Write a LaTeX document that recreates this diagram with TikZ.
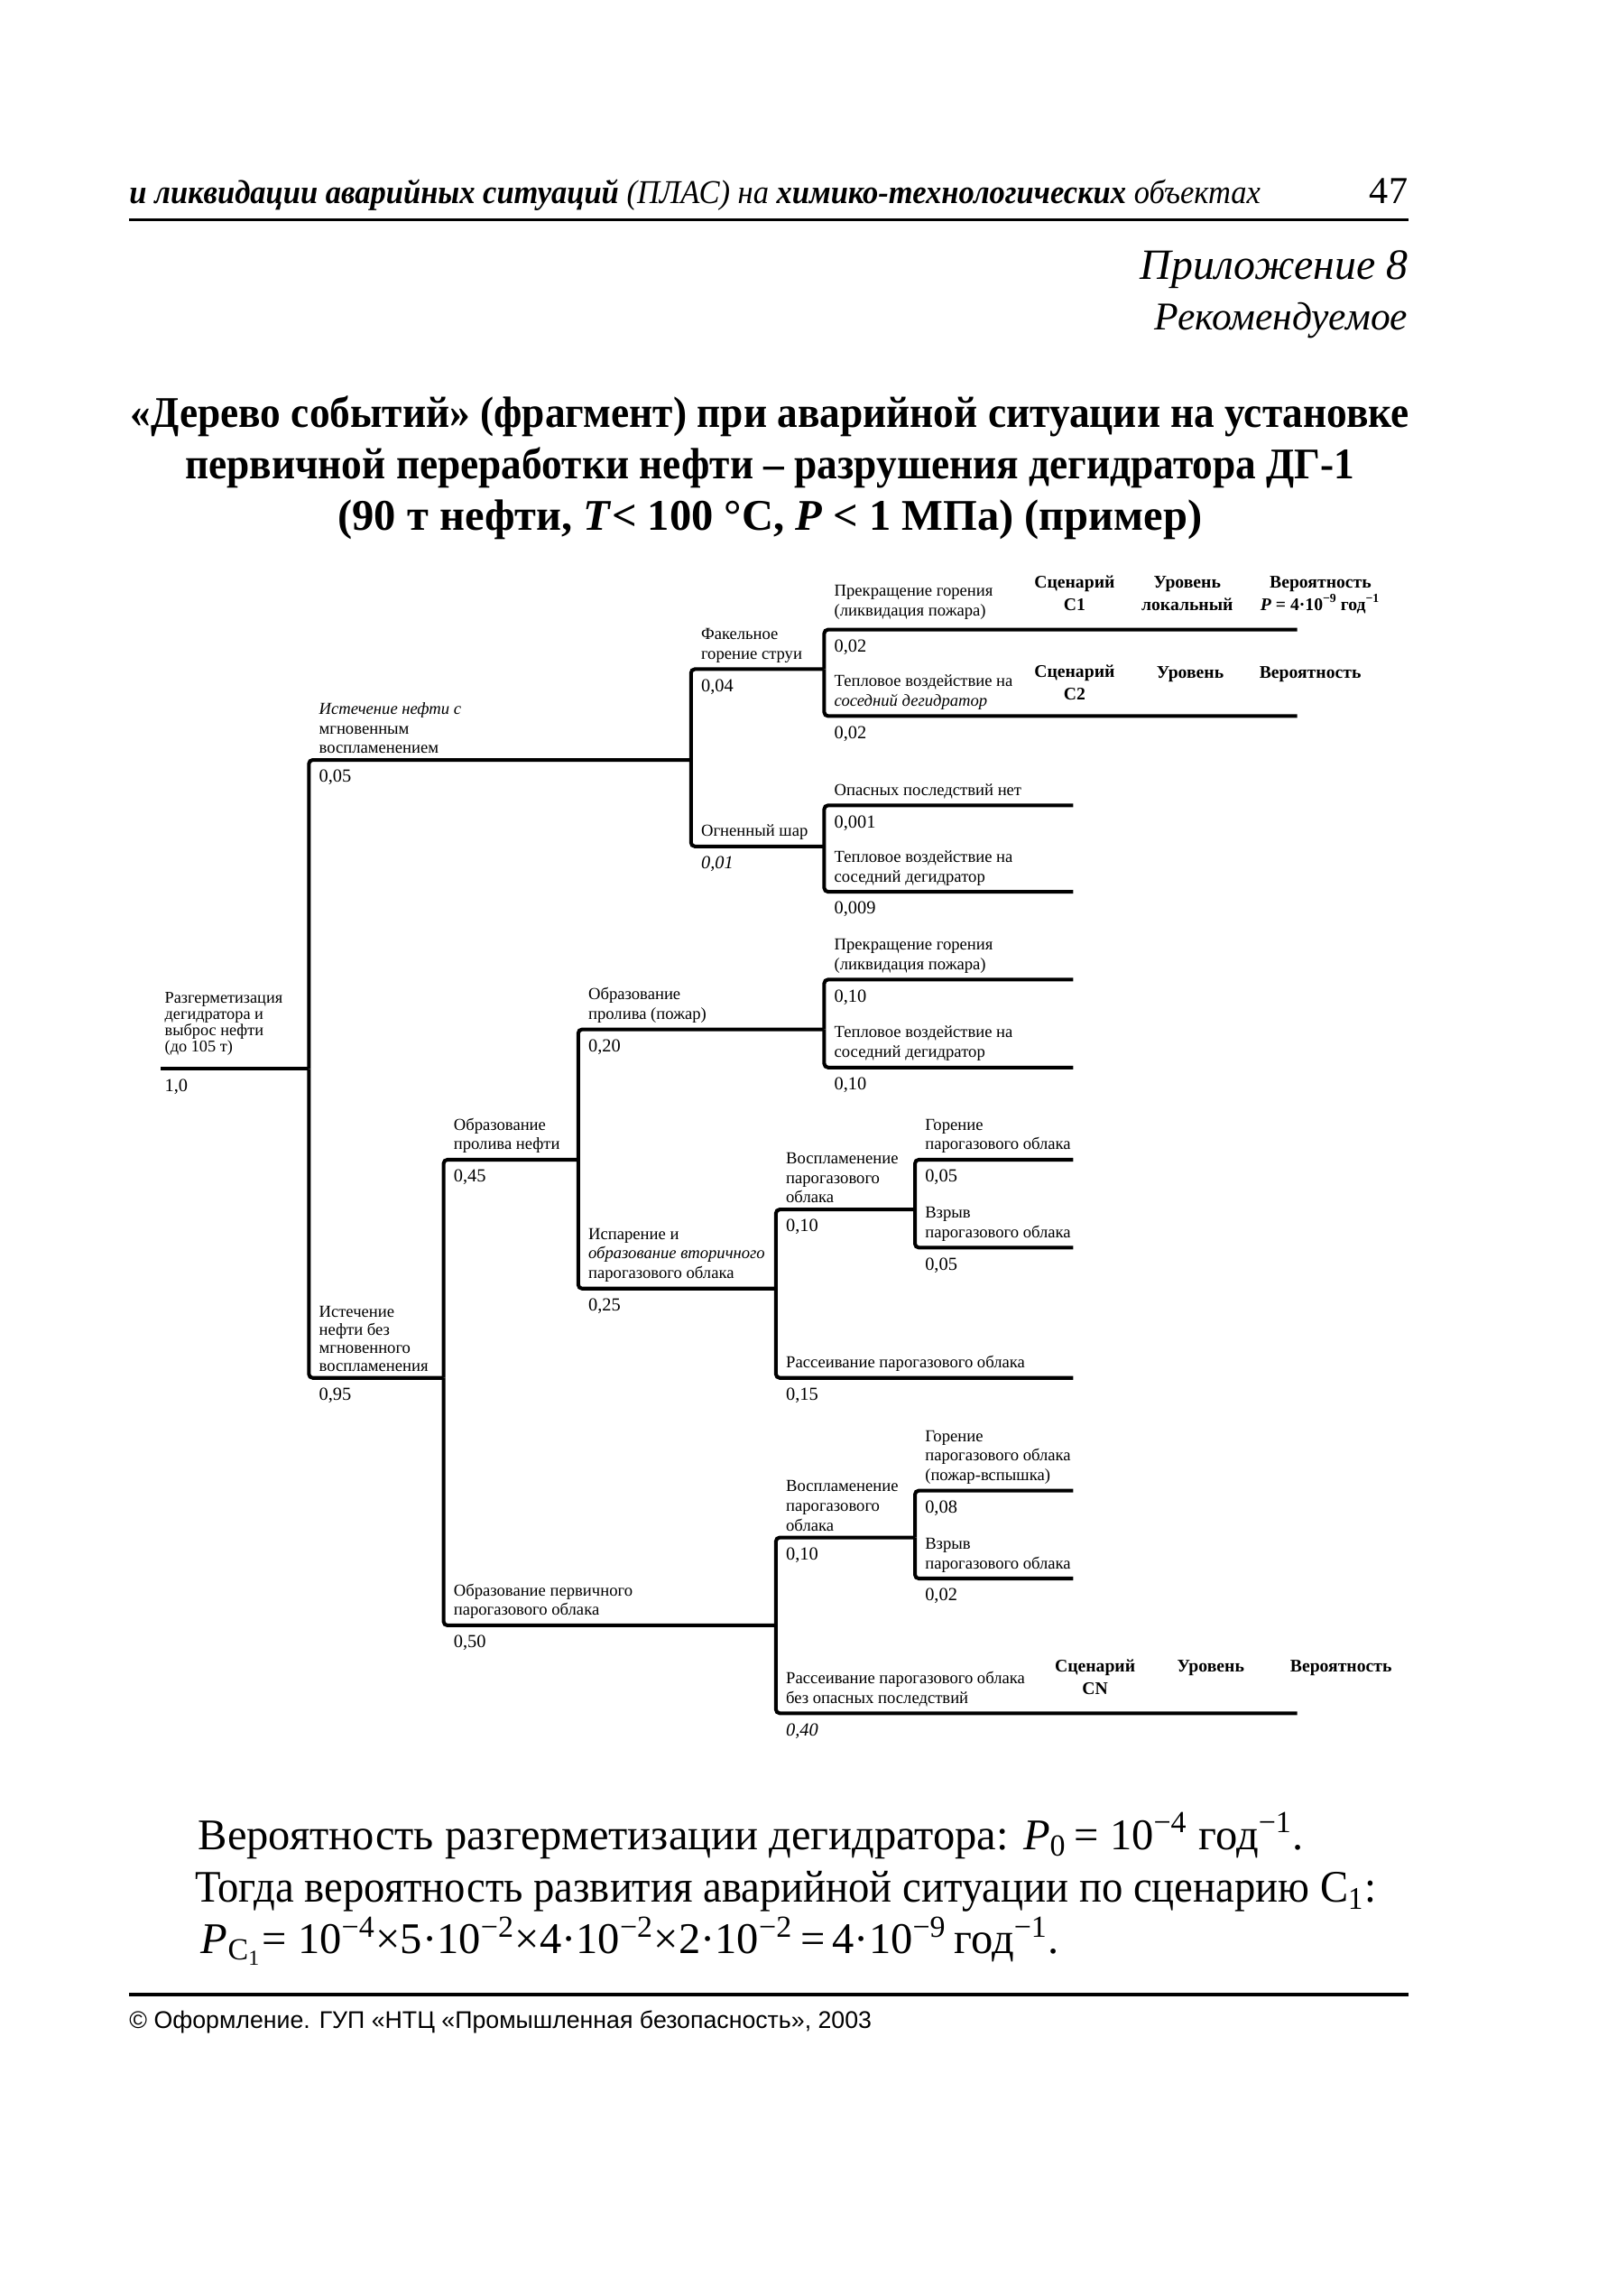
\documentclass[tikz,border=0pt]{standalone}
\usepackage{fontspec}
\setmainfont{Liberation Serif}
\newfontfamily\narrowfont[FakeStretch=0.935]{Liberation Serif}
\newfontfamily\footfont{Liberation Sans}
\usetikzlibrary{calc,positioning}

\begin{document}
\begin{tikzpicture}[
    x=0.016224cm, y=-0.016224cm,
    ln/.style={line width=1.15pt, rounded corners=1.2pt},
    rule/.style={line width=1pt},
    ev/.style={anchor=south west, inner xsep=3pt, inner ysep=1.8pt, align=left,
               font=\fontsize{5.3}{6.2}\selectfont},
    pr/.style={anchor=north west, inner xsep=3pt, inner ysep=3pt,
               font=\fontsize{5.8}{6.5}\selectfont},
    sc/.style={anchor=base, inner sep=0pt, align=center,
               font=\fontsize{5.6}{7}\selectfont\bfseries},
    big/.style={inner sep=0pt, font=\fontsize{13.8}{16}\selectfont},
    ttl/.style={anchor=base, inner sep=0pt, font=\narrowfont\fontsize{13.8}{16}\selectfont\bfseries}
  ]
  \useasboundingbox (0,0) rectangle (1091,1568);

  % колонтитул
  \node[anchor=base west, inner sep=0pt, font=\narrowfont\fontsize{10.5}{12}\selectfont] (hdr) at (88,139)
       {\textbf{\textit{и ликвидации аварийных ситуаций}} \textit{(ПЛАС) на}
        \textbf{\textit{химико-технологических}} \textit{объектах}};
  \node[anchor=base east, inner sep=0pt, font=\fontsize{12}{14}\selectfont] (pg) at (962,139) {47};
  \draw[rule] (88,150) -- (962,150);

  \node[anchor=base east, inner sep=0pt, font=\fontsize{13.6}{16}\selectfont\itshape] (app) at (962,191) {Приложение 8};
  \node[anchor=base east, inner sep=0pt, font=\fontsize{12.4}{14}\selectfont\itshape] (rec) at (962,225) {Рекомендуемое};

  % заголовок
  \node[ttl] (t1) at (526,292)
       {«Дерево событий» (фрагмент) при аварийной ситуации на установке};
  \node[ttl] (t2) at (526,327)
       {первичной переработки нефти – разрушения дегидратора ДГ-1};
  \node[ttl, font=\fontsize{13.8}{16}\selectfont\bfseries] (t3) at (526,362)
       {(90 т нефти, \textit{T}< 100 °C, \textit{P} < 1 МПа) (пример)};

  % узлы дерева
  \coordinate (r0)    at (110,730);
  \coordinate (j0)    at (211,730);
  \coordinate (a)     at (472,519);
  \coordinate (b)     at (303,941);
  \coordinate (aa)    at (563,457);
  \coordinate (ab)    at (563,578);
  \coordinate (aaa)   at (886,430);
  \coordinate (aab)   at (886,489);
  \coordinate (aba)   at (733,550);
  \coordinate (abb)   at (733,609);
  \coordinate (ba)    at (395,792);
  \coordinate (bb)    at (530,1110);
  \coordinate (baa)   at (563,703);
  \coordinate (bab)   at (530,880);
  \coordinate (baaa)  at (733,669);
  \coordinate (baab)  at (733,729);
  \coordinate (baba)  at (625,826);
  \coordinate (babb)  at (733,941);
  \coordinate (babaa) at (733,792);
  \coordinate (babab) at (733,852);
  \coordinate (bba)   at (625,1050);
  \coordinate (bbb)   at (886,1170);
  \coordinate (bbaa)  at (733,1018);
  \coordinate (bbab)  at (733,1078);

  % ветви
  \draw[ln] (r0) -- (j0);
  \foreach \p/\c in {j0/a, j0/b, a/aa, a/ab, aa/aaa, aa/aab, ab/aba, ab/abb,
                     b/ba, b/bb, ba/baa, ba/bab, baa/baaa, baa/baab,
                     bab/baba, bab/babb, baba/babaa, baba/babab,
                     bb/bba, bb/bbb, bba/bbaa, bba/bbab}
    \draw[ln] (\p) |- (\c);

  % исходное событие
  \node[ev, inner xsep=1pt, inner ysep=4pt, font=\fontsize{5.2}{5.1}\selectfont] (l-r0) at (r0)
       {Разгерметизация\\дегидратора и\\выброс нефти\\ (до 105 т)};
  \node[pr, inner xsep=1pt] (p-r0) at (r0) {1,0};

  % истечение с мгновенным воспламенением
  \node[ev] (l-a) at (j0 |- a) {\textit{Истечение нефти с}\\мгновенным\\воспламенением};
  \node[pr] (p-a) at (j0 |- a) {0,05};
  \node[ev] (l-aa) at (a |- aa) {Факельное\\горение струи};
  \node[pr] (p-aa) at (a |- aa) {0,04};
  \node[ev] (l-ab) at (a |- ab) {Огненный шар};
  \node[pr] (p-ab) at (a |- ab) {\textit{0,01}};
  \node[ev, inner ysep=3pt] (l-aaa) at (aa |- aaa) {Прекращение горения\\(ликвидация пожара)};
  \node[pr] (p-aaa) at (aa |- aaa) {0,02};
  \node[ev] (l-aab) at (aa |- aab) {Тепловое воздействие на\\\textit{соседний дегидратор}};
  \node[pr] (p-aab) at (aa |- aab) {0,02};
  \node[ev] (l-aba) at (ab |- aba) {Опасных последствий нет};
  \node[pr] (p-aba) at (ab |- aba) {0,001};
  \node[ev] (l-abb) at (ab |- abb) {Тепловое воздействие на\\соседний дегидратор};
  \node[pr] (p-abb) at (ab |- abb) {0,009};

  % истечение без мгновенного воспламенения
  \node[ev, font=\fontsize{5.3}{5.7}\selectfont] (l-b) at (j0 |- b)
       {Истечение\\нефти без\\мгновенного\\воспламенения};
  \node[pr] (p-b) at (j0 |- b) {0,95};
  \node[ev] (l-ba) at (b |- ba) {Образование\\пролива нефти};
  \node[pr] (p-ba) at (b |- ba) {0,45};
  \node[ev] (l-baa) at (ba |- baa) {Образование\\пролива (пожар)};
  \node[pr] (p-baa) at (ba |- baa) {0,20};
  \node[ev] (l-baaa) at (baa |- baaa) {Прекращение горения\\(ликвидация пожара)};
  \node[pr] (p-baaa) at (baa |- baaa) {0,10};
  \node[ev] (l-baab) at (baa |- baab) {Тепловое воздействие на\\соседний дегидратор};
  \node[pr] (p-baab) at (baa |- baab) {0,10};
  \node[ev] (l-bab) at (ba |- bab) {Испарение и\\\textit{образование вторичного}\\парогазового облака};
  \node[pr] (p-bab) at (ba |- bab) {0,25};
  \node[ev] (l-baba) at (bab |- baba) {Воспламенение\\парогазового\\облака};
  \node[pr] (p-baba) at (bab |- baba) {0,10};
  \node[ev] (l-babaa) at (baba |- babaa) {Горение\\парогазового облака};
  \node[pr] (p-babaa) at (baba |- babaa) {0,05};
  \node[ev] (l-babab) at (baba |- babab) {Взрыв\\парогазового облака};
  \node[pr] (p-babab) at (baba |- babab) {0,05};
  \node[ev] (l-babb) at (bab |- babb) {Рассеивание парогазового облака};
  \node[pr] (p-babb) at (bab |- babb) {0,15};
  \node[ev] (l-bb) at (b |- bb) {Образование первичного\\парогазового облака};
  \node[pr] (p-bb) at (b |- bb) {0,50};
  \node[ev] (l-bba) at (bb |- bba) {Воспламенение\\парогазового\\облака};
  \node[pr] (p-bba) at (bb |- bba) {0,10};
  \node[ev] (l-bbaa) at (bba |- bbaa) {Горение\\парогазового облака\\(пожар-вспышка)};
  \node[pr] (p-bbaa) at (bba |- bbaa) {0,08};
  \node[ev] (l-bbab) at (bba |- bbab) {Взрыв\\парогазового облака};
  \node[pr] (p-bbab) at (bba |- bbab) {0,02};
  \node[ev] (l-bbb) at (bb |- bbb) {Рассеивание парогазового облака\\без опасных последствий};
  \node[pr] (p-bbb) at (bb |- bbb) {\textit{0,40}};

  % сценарии
  \node[sc] (c1s) at (734,417) {Сценарий\\C1};
  \node[sc] (c1u) at (811,417) {Уровень\\локальный};
  \node[sc] (c1v) at (902,417) {Вероятность\\\textit{P} = 4·10\textsuperscript{−9}\,год\textsuperscript{−1}};
  \node[sc] (c2s) at (734,478) {Сценарий\\C2};
  \node[sc] (c2u) at (813,463) {Уровень};
  \node[sc] (c2v) at (895,463) {Вероятность};
  \node[sc] (cns) at (748,1157) {Сценарий\\CN};
  \node[sc] (cnu) at (827,1142) {Уровень};
  \node[sc] (cnv) at (916,1142) {Вероятность};

  % расчёт
  \node[big, anchor=base west] (f1) at (135,1263)
       {Вероятность разгерметизации дегидратора: \textit{P}\textsubscript{0}\,= 10\textsuperscript{−4} год\textsuperscript{−1}.};
  \node[big, anchor=base west, font=\narrowfont\fontsize{14.2}{16}\selectfont] (f2) at (133,1299)
       {Тогда вероятность развития аварийной ситуации по сценарию С\textsubscript{1}:};
  \node[big, anchor=base west] (f3) at (137,1334)
       {\textit{P}\textsubscript{С\textsubscript{1}}= 10\textsuperscript{−4}×5·10\textsuperscript{−2}×4·10\textsuperscript{−2}×2·10\textsuperscript{−2}\,=\,4·10\textsuperscript{−9}\,год\textsuperscript{−1}.};

  % нижний колонтитул
  \draw[rule] (88,1362) -- (962,1362);
  \node[anchor=base west, inner sep=0pt, font=\footfont\fontsize{7.6}{9}\selectfont] (ftr) at (88,1385)
       {© Оформление. ГУП «НТЦ «Промышленная безопасность», 2003};
\end{tikzpicture}
\end{document}
